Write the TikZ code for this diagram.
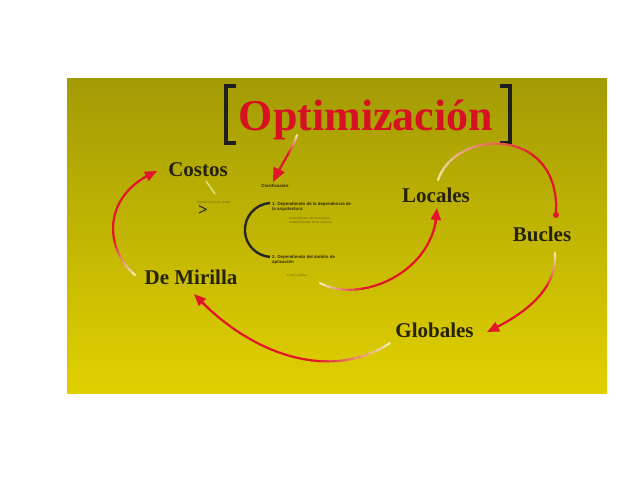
\documentclass[tikz,border=0pt]{standalone}
\usepackage{fontspec}
\setmainfont{Liberation Serif}
\newfontfamily\tinysans{Liberation Sans}
\usetikzlibrary{arrows.meta}

\definecolor{bgtop}{RGB}{163,155,5}
\definecolor{bgmid}{RGB}{196,186,6}
\definecolor{bgbot}{RGB}{224,208,0}
\definecolor{flowred}{RGB}{226,22,42}
\definecolor{flowfaint}{RGB}{240,232,170}
\definecolor{titlered}{RGB}{214,18,34}
\definecolor{labtext}{RGB}{38,34,12}
\definecolor{smalltext}{RGB}{50,45,15}

% Curved flow that fades in from a pale start to full red.
% #1..#4: start, control, control, end coordinates; #5: prefix; #6: fade length in segments (of 24)
\newcommand{\fadecurve}[6]{%
  \foreach \k in {0,...,24}{\path (#1) .. controls (#2) and (#3) .. (#4) coordinate[pos=\k/24] (#5\k);}
  \foreach \k in {0,...,22}{%
    \pgfmathtruncatemacro\nk{\k+1}%
    \pgfmathtruncatemacro\pc{min(100,100*\k/#6)}%
    \draw[flow, draw=flowred!\pc!flowfaint] (#5\k) -- (#5\nk);}%
}

\begin{document}
\begin{tikzpicture}[x=1pt,y=-1pt,
  flow/.style={line width=2.2pt, line cap=round},
  lab/.style={font=\bfseries\fontsize{21}{24}\selectfont, text=labtext, anchor=base, inner sep=0pt},
  headline/.style={font=\bfseries\fontsize{44}{50}\selectfont, text=titlered, anchor=base, inner sep=0pt},
  bracketline/.style={line width=4.5pt, draw=black!88, miter limit=10},
  tinytext/.style={font=\tinysans\bfseries\fontsize{4.4}{5.2}\selectfont, text=smalltext, inner sep=0pt, align=left},
  tinier/.style={font=\tinysans\fontsize{3.2}{4}\selectfont, text=smalltext!70!yellow, inner sep=0pt, align=left},
  bigtip/.style={-{Triangle[length=14pt,width=12pt]}},
  tip/.style={-{Triangle[length=12pt,width=10pt]}}]

\useasboundingbox (0,0) rectangle (640,480);
\fill[white] (0,0) rectangle (640,480);
\shade[top color=bgtop, middle color=bgmid, bottom color=bgbot] (67,78) rectangle (607,393);

% heading with square brackets
\node[headline] (title) at (366,130) {Optimización};
\draw[bracketline] (236,86) -- (226,86) -- (226,143) -- (236,143);
\draw[bracketline] (500,86) -- (510,86) -- (510,143) -- (500,143);

% topic labels
\node[lab] (costos)   at (198,176.7) {Costos};
\node[lab] (locales)  at (436,202.7) {Locales};
\node[lab] (bucles)   at (542,241.7) {Bucles};
\node[lab] (mirilla)  at (191,284)   {De Mirilla};
\node[lab] (globales) at (434.5,337.3) {Globales};

% small classification notes
\node[tinytext] (clasif) at (275,186) {Clasificación};
\node[tinytext, anchor=west] (item1) at (272,206.5) {1. Dependiendo de la dependencia de\\la arquitectura};
\node[tinier, anchor=west] (sub1) at (289,221) {Dependientes de la máquina\\Independientes de la máquina};
\node[tinytext, anchor=west] (item2) at (272,260) {2. Dependiendo del ámbito de\\aplicación};
\node[tinier, anchor=west] (sub2) at (287,276) {Local y global};
\node[tinier, anchor=west] (costnote) at (197,202.5) {Optimización de costos};
\node[font=\bfseries\fontsize{17}{17}\selectfont, text=black!90, inner sep=0pt] (chev) at (203,211) {>};

% bracket grouping the two criteria
\draw[line width=2.4pt, draw=black!85] (270,203) arc[start angle=266, end angle=94, radius=27];

% pale link from Costos to its note
\path (costos.south) ++(8,4) coordinate (cl1) (chev.north) ++(12,-12) coordinate (cl2);
\draw[line width=1.4pt, draw=flowfaint!80!bgmid, line cap=round] (cl1) -- (cl2);

% De Mirilla -> Costos
\coordinate (a0) at (135,275); \coordinate (a1) at (105,250);
\coordinate (a2) at (100,195); \coordinate (a3) at (157,171);
\fadecurve{a0}{a1}{a2}{a3}{fa-}{8}
\draw[flow, draw=flowred, tip] (fa-22) -- (fa-24);

% Globales -> De Mirilla
\coordinate (b0) at (390,343); \coordinate (b1) at (335,380);
\coordinate (b2) at (255,360); \coordinate (b3) at (194,294);
\fadecurve{b0}{b1}{b2}{b3}{fb-}{9}
\draw[flow, draw=flowred, tip] (fb-22) -- (fb-24);

% heading -> Clasificación
\coordinate (c0) at (297,135); \coordinate (c1) at (292,150);
\coordinate (c2) at (282,163); \coordinate (c3) at (273,182);
\fadecurve{c0}{c1}{c2}{c3}{fc-}{10}
\draw[flow, draw=flowred, bigtip] (fc-22) -- (fc-24);

% lower sweep -> Locales
\coordinate (d0) at (320,283); \coordinate (d1) at (360,305);
\coordinate (d2) at (437,272); \coordinate (d3) at (437,208);
\fadecurve{d0}{d1}{d2}{d3}{fd-}{7}
\draw[flow, draw=flowred, tip] (fd-22) -- (fd-24);

% Locales -> Bucles
\coordinate (e0) at (438,180); \coordinate (e1) at (455,128);
\coordinate (e2) at (562,125); \coordinate (e3) at (556,215);
\fadecurve{e0}{e1}{e2}{e3}{fe-}{16}
\draw[flow, draw=flowred] (fe-23) -- (fe-24);
\fill[flowred] (fe-24) circle[radius=3pt];

% Bucles -> Globales
\coordinate (g0) at (555,253); \coordinate (g1) at (557,290);
\coordinate (g2) at (525,314); \coordinate (g3) at (487,332);
\fadecurve{g0}{g1}{g2}{g3}{fg-}{8}
\draw[flow, draw=flowred, tip] (fg-22) -- (fg-24);

\end{tikzpicture}
\end{document}
